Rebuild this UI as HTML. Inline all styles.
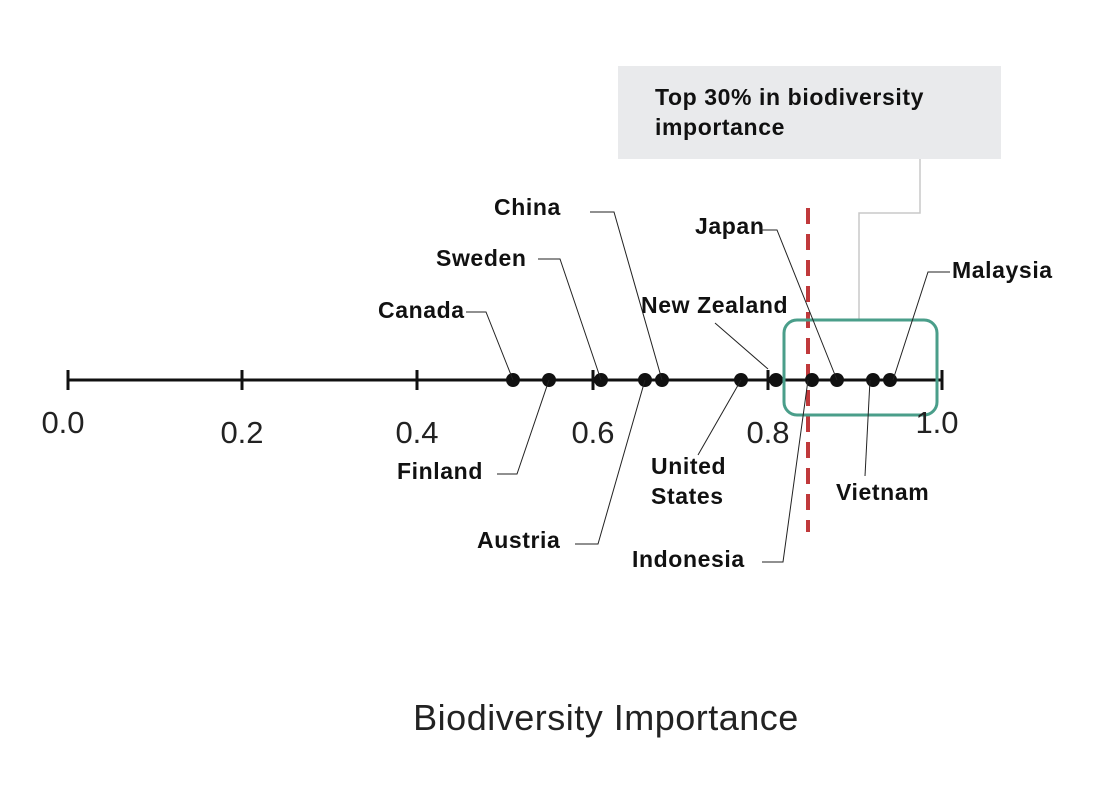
<!DOCTYPE html>
<html><head><style>
html,body{margin:0;padding:0;background:#fff;}
svg{display:block;}
.l{font-family:"Liberation Sans",sans-serif;font-weight:bold;font-size:23px;letter-spacing:0.6px;fill:#111;}
.t{font-family:"Liberation Sans",sans-serif;font-size:31px;fill:#222;}
.ld{stroke:#222;stroke-width:1;fill:none;}
</style></head><body>
<svg width="1100" height="796" viewBox="0 0 1100 796">
<rect width="1100" height="796" fill="#fff"/>
<rect x="618" y="66" width="383" height="93" fill="#e9eaec"/>
<text class="l" x="655" y="105">Top 30% in biodiversity</text>
<text class="l" x="655" y="135">importance</text>
<polyline points="920,159 920,213 859,213 859,320" fill="none" stroke="#c8c8c8" stroke-width="1.5"/>
<line x1="808" y1="208" x2="808" y2="532" stroke="#c0393b" stroke-width="4" stroke-dasharray="16,10"/>
<line x1="68" y1="380" x2="942" y2="380" stroke="#111" stroke-width="3"/>
<g stroke="#111" stroke-width="3">
<line x1="68" y1="370" x2="68" y2="390"/><line x1="242" y1="370" x2="242" y2="390"/>
<line x1="417" y1="370" x2="417" y2="390"/><line x1="593" y1="370" x2="593" y2="390"/>
<line x1="768" y1="370" x2="768" y2="390"/><line x1="942" y1="370" x2="942" y2="390"/>
</g>
<g fill="#111">
<circle cx="513" cy="380" r="7"/><circle cx="549" cy="380" r="7"/><circle cx="601" cy="380" r="7"/>
<circle cx="645" cy="380" r="7"/><circle cx="662" cy="380" r="7"/><circle cx="741" cy="380" r="7"/>
<circle cx="776" cy="380" r="7"/><circle cx="812" cy="380" r="7"/><circle cx="837" cy="380" r="7"/>
<circle cx="873" cy="380" r="7"/><circle cx="890" cy="380" r="7"/>
</g>
<rect x="784" y="320" width="153" height="95" rx="13" fill="none" stroke="#4a9e8a" stroke-width="3"/>
<text class="t" x="63" y="433" text-anchor="middle">0.0</text>
<text class="t" x="242" y="443" text-anchor="middle">0.2</text>
<text class="t" x="417" y="443" text-anchor="middle">0.4</text>
<text class="t" x="593" y="443" text-anchor="middle">0.6</text>
<text class="t" x="768" y="443" text-anchor="middle">0.8</text>
<text class="t" x="937" y="433" text-anchor="middle">1.0</text>
<text class="l" x="378" y="318">Canada</text>
<polyline class="ld" points="466,312 486,312 513,380"/>
<text class="l" x="436" y="266">Sweden</text>
<polyline class="ld" points="538,259 560,259 601,380"/>
<text class="l" x="494" y="215">China</text>
<polyline class="ld" points="590,212 614,212 662,380"/>
<text class="l" x="695" y="234">Japan</text>
<polyline class="ld" points="760,230 777,230 837,380"/>
<text class="l" x="641" y="313">New Zealand</text>
<polyline class="ld" points="715,323 768,369"/>
<text class="l" x="952" y="278">Malaysia</text>
<polyline class="ld" points="950,272 928,272 893,380"/>
<text class="l" x="397" y="479">Finland</text>
<polyline class="ld" points="497,474 517,474 549,380"/>
<text class="l" x="477" y="548">Austria</text>
<polyline class="ld" points="575,544 598,544 645,380"/>
<text class="l" x="651" y="474">United</text>
<text class="l" x="651" y="504">States</text>
<polyline class="ld" points="698,455 741,380"/>
<text class="l" x="632" y="567">Indonesia</text>
<polyline class="ld" points="762,562 783,562 808,380"/>
<text class="l" x="836" y="500">Vietnam</text>
<polyline class="ld" points="865,476 870,380"/>
<text x="606" y="730" text-anchor="middle" style="font-family:'Liberation Sans',sans-serif;font-size:36px;letter-spacing:0.5px;fill:#222;">Biodiversity Importance</text>
</svg>
</body></html>
